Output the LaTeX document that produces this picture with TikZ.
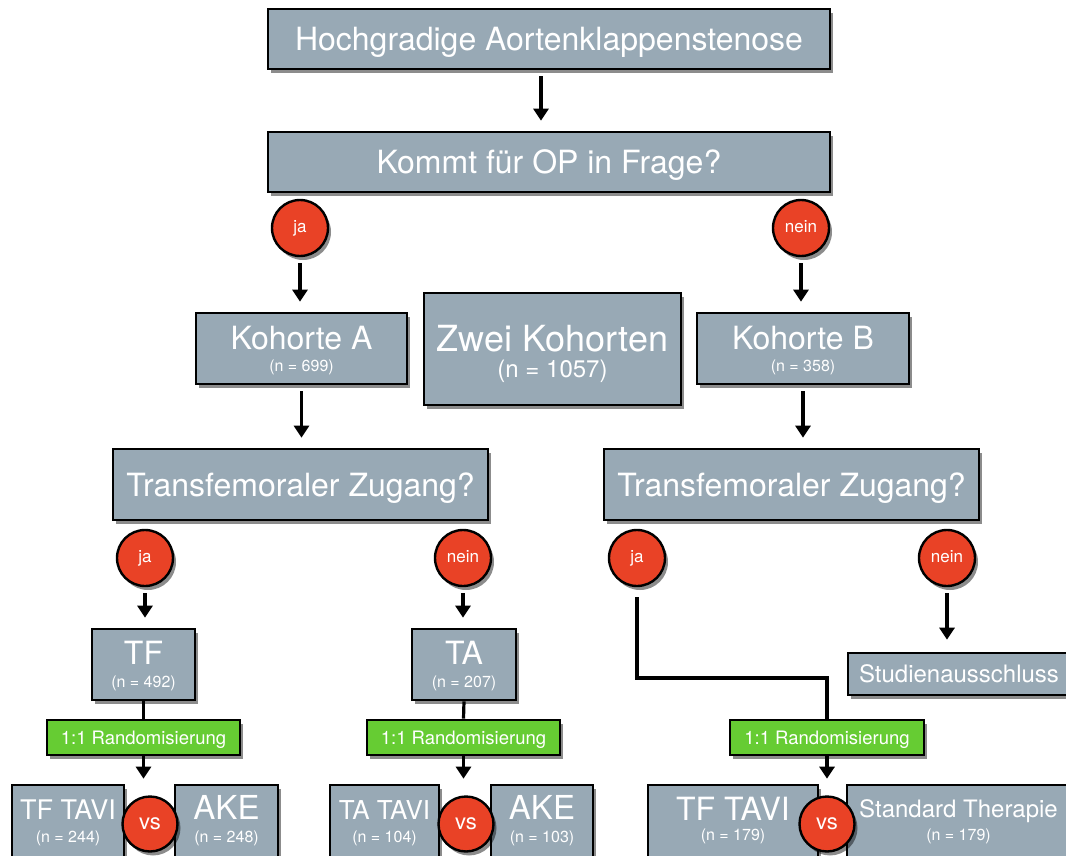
\documentclass[tikz,border=0pt]{standalone}
\usepackage{fontspec}
\setmainfont{TeX Gyre Heros}
\usetikzlibrary{shadows,arrows.meta,calc}
\definecolor{boxfill}{RGB}{152,169,181}
\definecolor{redc}{RGB}{233,66,38}
\definecolor{greenc}{RGB}{102,204,51}
\newcommand\fsz[1]{\fontsize{#1pt}{#1pt}\selectfont}
\begin{document}
\begin{tikzpicture}[x=1pt,y=-1pt,
  shad/.style={drop shadow={shadow xshift=3pt,shadow yshift=-4pt,opacity=0.45,fill=black}},
  box/.style={draw=black,line width=2.6pt,fill=boxfill,text=white,inner sep=0pt,shad},
  dot/.style={circle,draw=black,line width=2.4pt,fill=redc,text=white,minimum size=56pt,inner sep=0pt,font=\fsz{17},text height=8.5pt,text depth=0pt,shad},
  vsdot/.style={dot,minimum size=55pt,font=\fsz{22},text height=11pt},
  rand/.style={box,fill=greenc,minimum width=193pt,minimum height=35pt,font=\fsz{18.5},text height=13pt,text depth=0pt},
  ntext/.style={text=white,inner sep=0pt,anchor=base,font=\fsz{16}},
  conn/.style={line width=3.2pt,draw=black},
  arr/.style={conn,-{Triangle[length=12pt,width=15pt]},shorten >=10pt,shorten <=6pt}]
\useasboundingbox (0,0) rectangle (1066,856);
\clip (0,0) rectangle (1066,856);

% top part
\node[box,minimum width=562pt,minimum height=60pt,font=\fsz{32},text height=23pt,text depth=0pt] (top) at (549,39) {Hochgradige Aortenklappenstenose};
\node[box,minimum width=562pt,minimum height=60pt,font=\fsz{32},text height=23pt,text depth=0pt] (op) at (549,162) {Kommt für OP in Frage?};

% cohorts
\node[box,minimum width=211pt,minimum height=71pt,font=\fsz{32},text height=23pt,text depth=22pt] (kohA) at (301.5,348.5) {Kohorte A};
\node[ntext] (kohAn) at ([yshift=-22.5pt]kohA.center) {(n = 699)};
\node[box,minimum width=257pt,minimum height=112pt,font=\fsz{36},text height=26pt,text depth=22pt] (zwei) at (552.5,349) {Zwei Kohorten};
\node[ntext,font=\fsz{24}] (zwein) at ([yshift=-28pt]zwei.center) {(n = 1057)};
\node[box,minimum width=212pt,minimum height=71pt,font=\fsz{32},text height=23pt,text depth=22pt] (kohB) at (803,348.5) {Kohorte B};
\node[ntext] (kohBn) at ([yshift=-22.5pt]kohB.center) {(n = 358)};

% access questions
\node[box,minimum width=375pt,minimum height=71pt,font=\fsz{32},text height=23pt,text depth=0pt] (tzL) at (300.5,484.5) {Transfemoraler Zugang?};
\node[box,minimum width=375pt,minimum height=71pt,font=\fsz{32},text height=23pt,text depth=0pt] (tzR) at (791.5,484.5) {Transfemoraler Zugang?};

% TF / TA
\node[box,minimum width=103pt,minimum height=71pt,font=\fsz{32},text height=23pt,text depth=24pt] (TF) at (143.5,664.5) {TF};
\node[ntext] (TFn) at ([yshift=-22.5pt]TF.center) {(n = 492)};
\node[box,minimum width=104pt,minimum height=71pt,font=\fsz{32},text height=23pt,text depth=24pt] (TA) at (464,664.5) {TA};
\node[ntext] (TAn) at ([yshift=-22.5pt]TA.center) {(n = 207)};

\node[box,minimum width=222pt,minimum height=42pt,font=\fsz{24},text height=17pt,text depth=0pt] (studien) at (959,674) {Studienausschluss};

% randomisation
\node[rand] (rand1) at (143.5,737.5) {1:1 Randomisierung};
\node[rand] (rand2) at (463.5,737.5) {1:1 Randomisierung};
\node[rand,minimum width=194pt] (rand3) at (827,737.5) {1:1 Randomisierung};

% bottom boxes
\node[box,minimum width=112pt,minimum height=76pt,font=\fsz{27},text height=19.5pt,text depth=27.5pt] (tftavi1) at (68,823) {TF TAVI};
\node[ntext] (tftavi1n) at ([yshift=-19pt]tftavi1.center) {(n = 244)};
\node[box,minimum width=103pt,minimum height=76pt,font=\fsz{33},text height=24pt,text depth=32pt] (ake1) at (226.5,823) {AKE};
\node[ntext] (ake1n) at ([yshift=-19pt]ake1.center) {(n = 248)};
\node[box,minimum width=109pt,minimum height=76pt,font=\fsz{26},text height=19pt,text depth=27pt] (tatavi) at (384.5,823) {TA TAVI};
\node[ntext] (tatavin) at ([yshift=-19pt]tatavi.center) {(n = 104)};
\node[box,minimum width=102pt,minimum height=76pt,font=\fsz{33},text height=24pt,text depth=32pt] (ake2) at (542,823) {AKE};
\node[ntext] (ake2n) at ([yshift=-19pt]ake2.center) {(n = 103)};
\node[box,minimum width=170pt,minimum height=76pt,font=\fsz{32},text height=23pt,text depth=29pt] (tftavi3) at (733,823) {TF TAVI};
\node[ntext] (tftavi3n) at ([yshift=-17pt]tftavi3.center) {(n = 179)};
\node[box,minimum width=223pt,minimum height=76pt,font=\fsz{24},text height=17pt,text depth=29pt] (std) at (958.5,823) {Standard Therapie};
\node[ntext] (stdn) at ([yshift=-17pt]std.center) {(n = 179)};

% decision circles
\node[dot] (ja1) at (300,228) {ja};
\node[dot] (nein1) at (801,228) {nein};
\node[dot] (jaL) at (145,558) {ja};
\node[dot] (neinL) at (463,558) {nein};
\node[dot] (jaR) at (637,558) {ja};
\node[dot] (neinR) at (947,558) {nein};

\node[vsdot] (vs1) at (150,824) {vs};
\node[vsdot] (vs2) at (466,824) {vs};
\node[vsdot] (vs3) at (827,824) {vs};

% connectors
\draw[arr] ([xshift=-8pt]top.south) -- ([xshift=-8pt]op.north);
\draw[arr] (ja1) -- (ja1 |- kohA.north);
\draw[arr] (nein1) -- (nein1 |- kohB.north);
\draw[arr] (kohA.south) -- (kohA.south |- tzL.north);
\draw[arr] (kohB.south) -- (kohB.south |- tzR.north);
\draw[arr] (jaL) -- (jaL |- TF.north);
\draw[arr] (neinL) -- (neinL |- TA.north);
\draw[arr,shorten >=12pt] (neinR) -- (neinR |- studien.north);

\draw[conn] (TF.south) -- (rand1.north);
\draw[conn] (TA.south) -- (rand2.north);
\draw[arr,shorten >=5pt,shorten <=0pt] (rand1.south) -- (rand1.south |- tftavi1.north);
\draw[arr,shorten >=5pt,shorten <=0pt] (rand2.south) -- (rand2.south |- tatavi.north);

\coordinate (bendR) at (827,678);
\draw[conn,shorten <=10pt] (jaR) |- (bendR) -- (bendR |- rand3.north);
\draw[arr,shorten >=5pt,shorten <=0pt] (rand3.south) -- (rand3.south |- tftavi3.north);
\end{tikzpicture}
\end{document}
